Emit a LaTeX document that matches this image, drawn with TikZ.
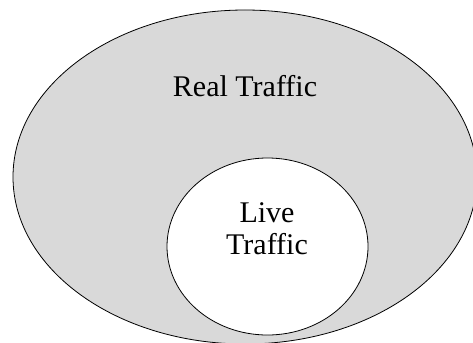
\documentclass[tikz,border=0pt]{standalone}
\usepackage{fontspec}
\setmainfont{Liberation Serif}

\begin{document}
\begin{tikzpicture}[x=0.75pt,y=0.75pt,yscale=-1,xscale=1]
\useasboundingbox (0,0) rectangle (473,342);

%Shape: Ellipse [id:real]
\draw  [line width=0.6pt, fill={rgb,255:red,217;green,217;blue,217}] (245,177) ellipse (232 and 167);
%Shape: Ellipse [id:live]
\draw  [line width=0.6pt, fill=white] (267.5,246.5) ellipse (100.5 and 88.5);

% Text Node
\draw (245,86) node [inner sep=0.75pt] (realtxt) [font=\fontsize{22.5}{24}\selectfont] {Real Traffic};
% Text Node
\draw (267,229) node [inner sep=0.75pt] (livetxt) [font=\fontsize{22.5}{24}\selectfont, align=center] {Live\\Traffic};

\end{tikzpicture}
\end{document}
